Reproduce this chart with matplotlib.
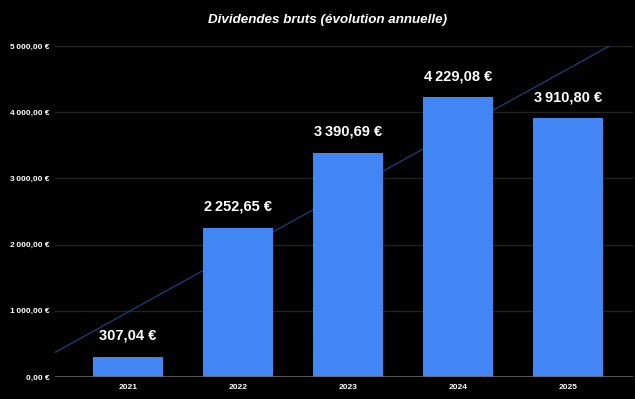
import numpy as np
import matplotlib
matplotlib.use("Agg")
import matplotlib.pyplot as plt

plt.rcParams['font.family'] = ['Liberation Sans', 'DejaVu Sans']

years = ['2021', '2022', '2023', '2024', '2025']
dividendes = [307.04, 2252.65, 3390.69, 4229.08, 3910.80]
yticks = [0, 1000, 2000, 3000, 4000, 5000]


def fmt_eur(v):
    entier, dec = f"{v:.2f}".split('.')
    groupes = []
    while len(entier) > 3:
        groupes.insert(0, entier[-3:])
        entier = entier[:-3]
    groupes.insert(0, entier)
    return '\u2009'.join(groupes) + ',' + dec + '\u00a0€'


fig = plt.figure(figsize=(6.35, 3.99), dpi=100, facecolor='black')
ax = fig.add_axes([55 / 635, 22 / 399, 578 / 635, 331 / 399])
ax.set_facecolor('black')

x = np.arange(len(years))
ax.bar(x, dividendes, width=0.64, color='#4285f4', zorder=3)

for xi, v in zip(x, dividendes):
    ax.text(xi, v + 210, fmt_eur(v), ha='center', va='bottom', color='white',
            fontsize=10.5, fontweight='bold', zorder=4)

# courbe de tendance linéaire
a, b = np.polyfit(x, dividendes, 1)
xt = np.array([-0.66, 4.62])
ax.plot(xt, a * xt + b, color='#1c3a70', lw=1, zorder=2)

ax.set_xlim(-0.664, 4.59)
ax.set_ylim(0, 5000)
ax.set_yticks(yticks)
ax.set_yticklabels([fmt_eur(v) for v in yticks])
ax.set_xticks(x)
ax.set_xticklabels(years)
ax.tick_params(axis='both', length=0, colors='white', labelsize=6)
for lab in ax.get_xticklabels() + ax.get_yticklabels():
    lab.set_fontweight('bold')
ax.tick_params(axis='x', pad=5)
ax.tick_params(axis='y', pad=4)

ax.grid(axis='y', color='#222222', lw=1, zorder=0)
ax.axhline(0, color='#666666', lw=1.2, zorder=4)
for s in ax.spines.values():
    s.set_visible(False)

fig.text(328 / 635, 1 - 20 / 399, 'Dividendes bruts (évolution annuelle)', ha='center', va='center',
         color='white', fontsize=9.6, fontweight='bold', fontstyle='italic')

fig.savefig('out.png', dpi=100, facecolor='black')
